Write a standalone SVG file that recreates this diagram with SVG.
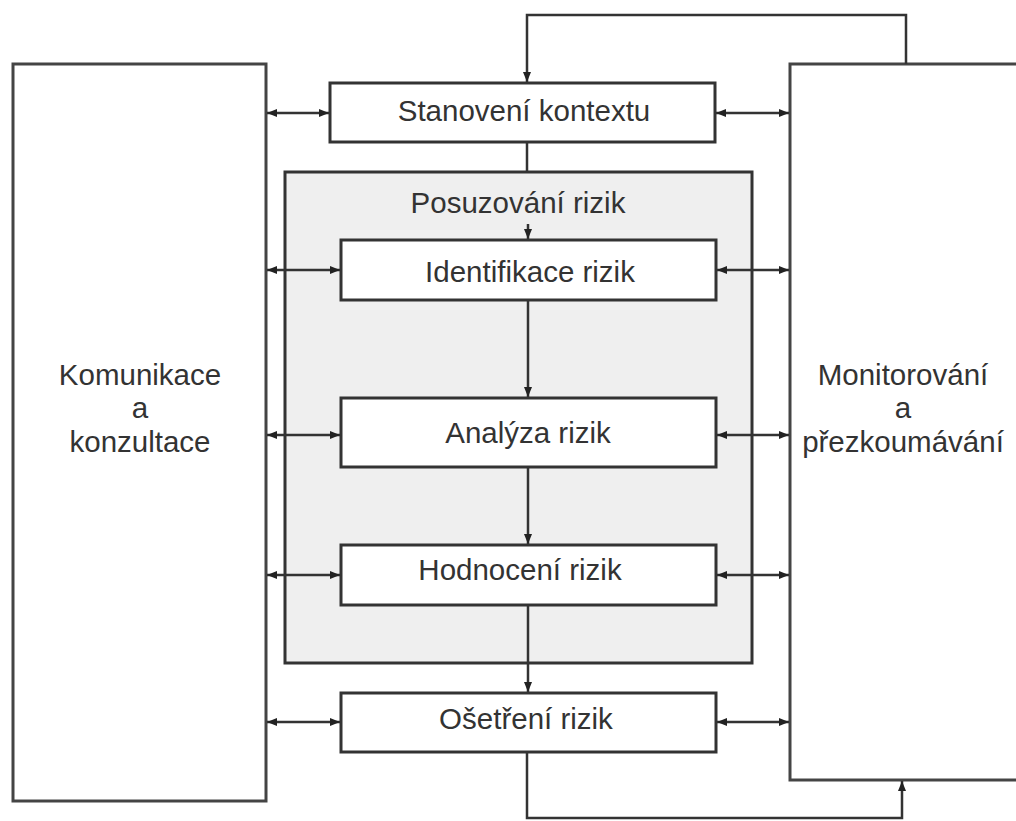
<svg xmlns="http://www.w3.org/2000/svg" width="1016" height="821" viewBox="0 0 1016 821">
<style>
.box{fill:#fff;stroke:#333;stroke-width:3}
.big{fill:#fff;stroke:#444;stroke-width:3}
.grp{fill:#efefef;stroke:#333;stroke-width:3}
.ln{fill:none;stroke:#333;stroke-width:2.5}
.t{font-family:"Liberation Sans",Arial,sans-serif;font-size:29.5px;fill:#333;text-anchor:middle}
</style>
<defs>
<marker id="ah" viewBox="0 0 10 10" refX="10" refY="5" markerWidth="4" markerHeight="4" orient="auto-start-reverse" markerUnits="strokeWidth">
<path d="M0,1 L10,5 L0,9 z" fill="#222"/>
</marker>
<pattern id="dots" width="4" height="4" patternUnits="userSpaceOnUse">
<rect width="4" height="4" fill="#f2f2f2"/>
<rect width="1" height="1" fill="#dcdcdc"/>
<rect x="2" y="2" width="1" height="1" fill="#dcdcdc"/>
</pattern>
</defs>
<g id="komunikace">
<rect class="big" x="13" y="64" width="253" height="737"/>
<text class="t" x="140" y="385">Komunikace</text>
<text class="t" x="140" y="418">a</text>
<text class="t" x="140" y="452">konzultace</text>
</g>
<g id="monitorovani">
<rect class="big" x="790" y="64" width="240" height="716"/>
<text class="t" x="903" y="385">Monitorování</text>
<text class="t" x="903" y="418">a</text>
<text class="t" x="903" y="452">přezkoumávání</text>
</g>
<g id="posuzovani">
<rect class="grp" x="285" y="172" width="467" height="491" fill="url(#dots)"/>
<text class="t" x="518" y="213">Posuzování rizik</text>
</g>
<g id="stanoveni">
<rect class="box" x="330" y="83" width="385" height="59"/>
<text class="t" x="524" y="121">Stanovení kontextu</text>
</g>
<g id="identifikace">
<rect class="box" x="341" y="240" width="375" height="60"/>
<text class="t" x="530" y="282">Identifikace rizik</text>
</g>
<g id="analyza">
<rect class="box" x="341" y="398" width="375" height="69"/>
<text class="t" x="528" y="443">Analýza rizik</text>
</g>
<g id="hodnoceni">
<rect class="box" x="341" y="545" width="375" height="60"/>
<text class="t" x="520" y="580">Hodnocení rizik</text>
</g>
<g id="osetreni">
<rect class="box" x="341" y="693" width="375" height="59"/>
<text class="t" x="526" y="729">Ošetření rizik</text>
</g>
<g id="connectors">
<path class="ln" d="M906,64 V15 H527 V82" marker-end="url(#ah)"/>
<path class="ln" d="M527,142 V172"/>
<path class="ln" d="M528,224 V239" marker-end="url(#ah)"/>
<path class="ln" d="M528,300 V397" marker-end="url(#ah)"/>
<path class="ln" d="M528,467 V544" marker-end="url(#ah)"/>
<path class="ln" d="M528,605 V692" marker-end="url(#ah)"/>
<path class="ln" d="M527,752 V818 H902 V781" marker-end="url(#ah)"/>
<path class="ln" d="M267,113 H329" marker-start="url(#ah)" marker-end="url(#ah)"/>
<path class="ln" d="M716,113 H789" marker-start="url(#ah)" marker-end="url(#ah)"/>
<path class="ln" d="M267,270 H340" marker-start="url(#ah)" marker-end="url(#ah)"/>
<path class="ln" d="M717,270 H789" marker-start="url(#ah)" marker-end="url(#ah)"/>
<path class="ln" d="M267,435 H340" marker-start="url(#ah)" marker-end="url(#ah)"/>
<path class="ln" d="M717,435 H789" marker-start="url(#ah)" marker-end="url(#ah)"/>
<path class="ln" d="M267,575 H340" marker-start="url(#ah)" marker-end="url(#ah)"/>
<path class="ln" d="M717,575 H789" marker-start="url(#ah)" marker-end="url(#ah)"/>
<path class="ln" d="M267,722 H340" marker-start="url(#ah)" marker-end="url(#ah)"/>
<path class="ln" d="M717,722 H789" marker-start="url(#ah)" marker-end="url(#ah)"/>
</g>
</svg>
